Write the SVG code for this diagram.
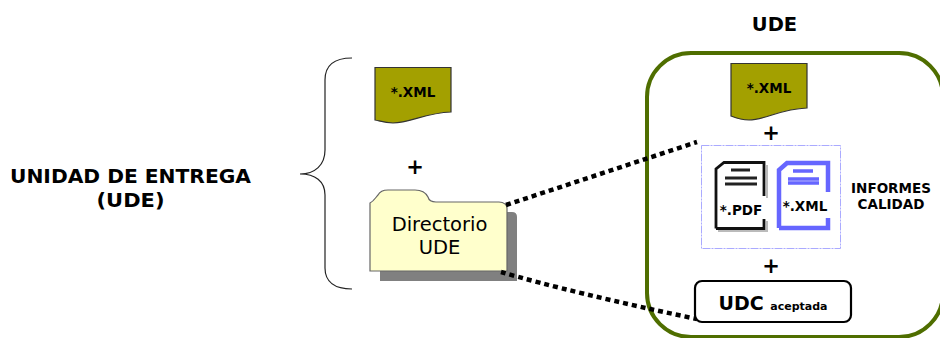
<svg xmlns="http://www.w3.org/2000/svg" width="940" height="338" viewBox="0 0 940 338">
<style>
text{font-family:"DejaVu Sans",Verdana,sans-serif;fill:#000;text-anchor:middle}
.b{font-weight:bold}
.xml{fill:#a3a000;stroke:#333;stroke-width:1.2}
.dot{fill:none;stroke:#000;stroke-width:4.5;stroke-dasharray:5 4}
</style>
<rect width="940" height="338" fill="#fff"/>
<g id="titulo-ude"><text class="b" x="774.500" y="31" font-size="19.500">UDE</text></g>
<g id="unidad-entrega"><text class="b" x="130.500" y="183" font-size="19.500" textLength="241" lengthAdjust="spacingAndGlyphs">UNIDAD DE ENTREGA</text><text class="b" x="130.500" y="207" font-size="19.500" textLength="68" lengthAdjust="spacingAndGlyphs">(UDE)</text></g>
<g id="llave"><path d="M352,58 C335,58 325,64 325,80 V150 C325,165 315,174 300,174 C315,174 325,181 325,195 V268 C325,282 335,289 352,289" fill="none" stroke="#222" stroke-width="1.2"/></g>
<g id="xml-1"><path class="xml" d="M375,67.500 H451 V112 C425,113 410,123 393,123 C385,123 380,121 375,120 Z"/><text class="b" x="413" y="97" font-size="13.500">*.XML</text></g>
<g id="mas-1"><text class="b" x="415" y="174" font-size="21">+</text></g>
<g id="directorio"><path d="M380,212 H512 Q517,212 517,217 V281 H380 Z" fill="#808080"/><path d="M370,271 V203 C374,201 376,197 378,195 C380,191 383,190 388,190 H415 C423,190 426,193 428,197 C429,201 432,202 436,202 H499 C504,202 507,205 507,208 V271 Z" fill="#ffffcc" stroke="#666" stroke-width="1.2"/><text x="439.500" y="231" font-size="19.500">Directorio</text><text x="439.500" y="254" font-size="19.500">UDE</text></g>
<g id="ude-marco"><rect x="647" y="53" width="296" height="284" rx="44" fill="none" stroke="#4f6e00" stroke-width="4"/></g>
<g id="conectores"><path class="dot" d="M506,205 L697,142"/><path class="dot" d="M501,272 C545,285 620,303 697,319"/></g>
<g id="xml-2"><path class="xml" d="M731,63.500 H807 V108 C780,109 765,120 749,120 C741,120 736,118 731,116 Z"/><text class="b" x="769" y="93" font-size="13.500">*.XML</text></g>
<g id="mas-2"><text class="b" x="771" y="140" font-size="21">+</text></g>
<g id="informes"><rect x="701.500" y="145.500" width="139" height="103" fill="#fff" stroke="#aaaaff" stroke-width="1" stroke-dasharray="8 1 2 1"/>
<path d="M718,231 H767 V221 M767,198 V165" fill="none" stroke="#bbb" stroke-width="2"/>
<path d="M716,228.500 H764 V219 M764,196 V162.500 H724 L716,169 V228.500" fill="none" stroke="#111" stroke-width="2.800"/>
<path d="M731,170 H750 M725,178 H757 M725,184 H757" stroke="#222" stroke-width="2.800"/>
<text class="b" x="741" y="215" font-size="13.500">*.PDF</text>
<path d="M779,228 H828 V218 M828,192 V163 H787 L779,170 V228" fill="none" stroke="#6666ff" stroke-width="4.500"/>
<path d="M793,171 H813 M788,179 H819 M788,183 H819" stroke="#6666ff" stroke-width="3.500"/>
<text class="b" x="805" y="211" font-size="13.500">*.XML</text>
<text class="b" x="891" y="193" font-size="13.500">INFORMES</text><text class="b" x="891" y="209" font-size="13.500">CALIDAD</text></g>
<g id="mas-3"><text class="b" x="771" y="273" font-size="21">+</text></g>
<g id="udc"><rect x="695" y="281" width="156" height="41" rx="7" fill="#fff" stroke="#000" stroke-width="2.200"/><text x="773" y="310" class="b" font-size="19">UDC <tspan font-size="11">aceptada</tspan></text></g>
</svg>
